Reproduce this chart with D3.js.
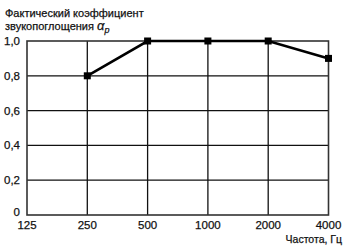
<!DOCTYPE html>
<html lang="ru">
<head>
<meta charset="UTF-8">
<title>Коэффициент звукопоглощения</title>
<style>
  body { margin: 0; background: #fff; }
  text { font-family: "Liberation Sans", Arial, sans-serif; fill: #111; stroke: #111; stroke-width: 0.25px; }
</style>
</head>
<body>
<svg id="chart" width="350" height="246"></svg>
<script src="https://cdnjs.cloudflare.com/ajax/libs/d3/7.8.5/d3.min.js"></script>
<script>
// частоты и значения
var freqs = ["125", "250", "500", "1000", "2000", "4000"];
var dataFreqs = ["250", "500", "1000", "2000", "4000"];
var alphaVals = [0.8, 1.0, 1.0, 1.0, 0.9];
var yTicks = [0, 0.2, 0.4, 0.6, 0.8, 1.0];

var svg = d3.select("#chart"),
  mLeft = 27, mRight = 328.5, mTop = 41, mBottom = 215;

var x = d3.scalePoint().domain(freqs).range([mLeft, mRight]);
var y = d3.scaleLinear().domain([0, 1]).range([mBottom, mTop]);

// сетка
svg.append("g").selectAll("line").data(freqs.slice(1, -1)).enter().append("line")
  .attr("x1", d => x(d)).attr("x2", d => x(d))
  .attr("y1", mTop).attr("y2", mBottom)
  .attr("stroke", "#111").attr("stroke-width", 1.3);
svg.append("g").selectAll("line").data(yTicks.slice(1, -1)).enter().append("line")
  .attr("x1", mLeft).attr("x2", mRight)
  .attr("y1", d => y(d)).attr("y2", d => y(d))
  .attr("stroke", "#111").attr("stroke-width", 1.3);

// рамка
svg.append("rect")
  .attr("x", mLeft).attr("y", mTop)
  .attr("width", mRight - mLeft).attr("height", mBottom - mTop)
  .attr("fill", "none").attr("stroke", "#333").attr("stroke-width", 1.6);

// подписи осей
var fmt = d => d === 0 ? "0" : d3.format(".1f")(d).replace(".", ",");
svg.append("g").selectAll("text").data(yTicks).enter().append("text")
  .attr("x", 20).attr("y", d => d === 0 ? y(d) - 3 : y(d)).attr("dy", "0.35em")
  .attr("text-anchor", "end").attr("font-size", 11.5)
  .text(fmt);
svg.append("g").selectAll("text").data(freqs).enter().append("text")
  .attr("x", d => x(d)).attr("y", 224.5).attr("dy", "0.35em")
  .attr("text-anchor", "middle").attr("font-size", 11.5)
  .text(d => d);

svg.append("text").attr("x", 342).attr("y", 239).attr("dy", "0.35em")
  .attr("text-anchor", "end").attr("font-size", 10.5)
  .text("Частота, Гц");

svg.append("text").attr("x", 5).attr("y", 13).attr("dy", "0.35em")
  .attr("font-size", 11).text("Фактический коэффициент");
var t2 = svg.append("text").attr("x", 5).attr("y", 26).attr("dy", "0.35em")
  .attr("font-size", 11);
t2.append("tspan").text("звукопоглощения ");
t2.append("tspan").attr("font-style", "italic").attr("font-size", 13).text("α");
t2.append("tspan").attr("font-style", "italic").attr("font-size", 9).attr("dy", 3).text("p");

// линия данных
var pts = dataFreqs.map((f, i) => [x(f), y(alphaVals[i])]);
svg.append("path").attr("d", d3.line()(pts))
  .attr("fill", "none").attr("stroke", "#000").attr("stroke-width", 2.6);
svg.append("g").selectAll("rect").data(pts).enter().append("rect")
  .attr("x", d => d[0] - 3.5).attr("y", d => d[1] - 3.5)
  .attr("width", 7).attr("height", 7).attr("fill", "#000");
</script>
</body>
</html>
